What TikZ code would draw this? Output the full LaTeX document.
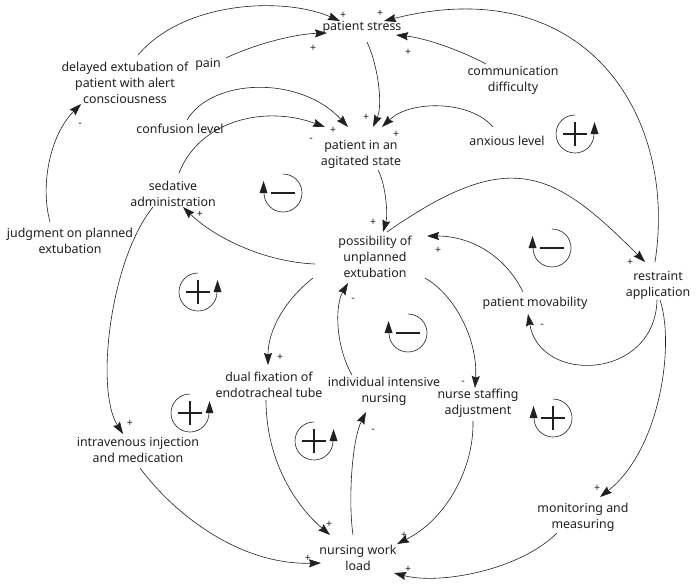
\documentclass[tikz,border=0pt]{standalone}
\usepackage{fontspec}
\setmainfont{Noto Sans}
\usetikzlibrary{arrows.meta,calc}
\definecolor{ink}{HTML}{231F20}
\tikzset{
  lbl/.style={font=\fontsize{12.4}{16}\selectfont, align=center, inner sep=0pt, text=ink},
  sgn/.style={font=\fontsize{10.5}{10.5}\selectfont, inner sep=0pt, text=ink},
  link/.style={draw=ink, line width=0.6pt, -{Stealth[length=12pt,width=8pt,inset=1.5pt]}},
  loopline/.style={draw=ink, line width=0.6pt},
  loopmark/.style={draw=ink, line width=1.5pt},
  Rccw/.pic={
    \draw[loopline] (90:19pt) arc[start angle=90,end angle=360,radius=19pt];
    \fill[ink] (19.5pt,12pt) -- (15.5pt,0pt) -- (23.5pt,0pt) -- cycle;
    \draw[loopmark] (-12pt,0pt) -- (12pt,0pt) (0pt,-12pt) -- (0pt,12pt);
  },
  Rcw/.pic={
    \draw[loopline] (90:19pt) arc[start angle=90,end angle=-180,radius=19pt];
    \fill[ink] (-19.5pt,12pt) -- (-23.5pt,0pt) -- (-15.5pt,0pt) -- cycle;
    \draw[loopmark] (-12pt,0pt) -- (12pt,0pt) (0pt,-12pt) -- (0pt,12pt);
  },
  Bcw/.pic={
    \draw[loopline] (90:19pt) arc[start angle=90,end angle=-180,radius=19pt];
    \fill[ink] (-19.5pt,12pt) -- (-23.5pt,0pt) -- (-15.5pt,0pt) -- cycle;
    \draw[loopmark] (-12pt,0pt) -- (12pt,0pt);
  },
}
\begin{document}
\begin{tikzpicture}[x=1pt,y=-1pt]
\path[use as bounding box] (0,0) rectangle (699,587);

% variables
\node[lbl] (stress)    at (362,27)  {patient stress};
\node[lbl] (pain)      at (208,64)  {pain};
\node[lbl] (delayed)   at (125,83)  {delayed extubation of\\patient with alert\\consciousness};
\node[lbl] (comm)      at (513,80)  {communication\\difficulty};
\node[lbl] (confusion) at (180,129) {confusion level};
\node[lbl] (agitated)  at (361,154) {patient in an\\agitated state};
\node[lbl] (anxious)   at (507,141) {anxious level};
\node[lbl] (sedative)  at (173,194) {sedative\\administration};
\node[lbl] (judgment)  at (70,241)  {judgment on planned\\extubation};
\node[lbl] (possib)    at (375,257) {possibility of\\unplanned\\extubation};
\node[lbl] (movab)     at (535,303) {patient movability};
\node[lbl] (restraint) at (658,285) {restraint\\application};
\node[lbl] (dual)      at (269,385) {dual fixation of\\endotracheal tube};
\node[lbl] (indiv)     at (384,391) {individual intensive\\nursing};
\node[lbl] (staffing)  at (478,403) {nurse staffing\\adjustment};
\node[lbl] (intrav)    at (138,450) {intravenous injection\\and medication};
\node[lbl] (monitor)   at (583,517) {monitoring and\\measuring};
\node[lbl] (load)      at (358,558) {nursing work\\load};

% causal links
\draw[link] ($(delayed)+(13,-28)$) .. controls (185,0) and (285,-3) .. ($(stress)+(-22,-6)$);
\draw[link] ($(pain)+(18,-6)$) .. controls (255,44) and (295,34) .. ($(stress)+(-35,6)$);
\draw[link] ($(restraint)+(-3,-23)$) .. controls (678,115) and (585,-30) .. ($(stress)+(22,-6)$);
\draw[link] ($(comm)+(-27,-16)$) .. controls (460,50) and (425,38) .. ($(stress)+(34,8)$);
\draw[link] ($(stress)+(5,15)$) .. controls (378,65) and (383,105) .. ($(agitated)+(12,-27)$);
\draw[link] ($(anxious)+(-14,-14)$) .. controls (470,100) and (410,100) .. ($(agitated)+(21,-27)$);
\draw[link] ($(confusion)+(7,-9)$) .. controls (212,78) and (300,75) .. ($(agitated)+(-13,-27)$);
\draw[link] ($(sedative)+(6,-21)$) .. controls (200,120) and (265,105) .. ($(agitated)+(-36,-27)$);
\draw[link] ($(agitated)+(17,16)$) .. controls (386,185) and (388,215) .. ($(possib)+(8,-25)$);
\draw[link] ($(possib)+(-60,7)$) .. controls (265,262) and (215,238) .. ($(sedative)+(10,13)$);
\draw[link] ($(possib)+(12,-25)$) .. controls (510,146) and (553,170) .. ($(restraint)+(-13,-23)$);
\draw[link] ($(movab)+(-12,-11)$) .. controls (505,255) and (470,236) .. ($(possib)+(52,-21)$);
\draw[link] ($(restraint)+(-1,15)$) .. controls (655,380) and (540,385) .. ($(movab)+(-7,11)$);
\draw[link] ($(restraint)+(2,15)$) .. controls (675,345) and (660,450) .. ($(monitor)+(17,-20)$);
\draw[link] ($(monitor)+(-26,16)$) .. controls (520,570) and (440,585) .. ($(load)+(36,15)$);
\draw[link] ($(possib)+(50,21)$) .. controls (455,295) and (478,340) .. ($(staffing)+(-3,-15)$);
\draw[link] ($(staffing)+(-5,18)$) .. controls (474,470) and (445,520) .. ($(load)+(39,-14)$);
\draw[link] ($(load)+(-5,-23)$) .. controls (348,500) and (352,440) .. ($(indiv)+(-18,21)$);
\draw[link] ($(indiv)+(-32,-16)$) .. controls (335,345) and (335,305) .. ($(possib)+(-27,26)$);
\draw[link] ($(possib)+(-62,21)$) .. controls (285,300) and (268,330) .. ($(dual)+(-1,-20)$);
\draw[link] ($(dual)+(-3,15)$) .. controls (266,460) and (295,505) .. ($(load)+(-28,-23)$);
\draw[link] ($(intrav)+(2,18)$) .. controls (175,515) and (240,565) .. ($(load)+(-37,5)$);
\draw[link] ($(sedative)+(-20,13)$) .. controls (110,260) and (95,390) .. ($(intrav)+(-15,-16)$);
\draw[link] ($(judgment)+(-20,-19)$) .. controls (40,185) and (50,135) .. ($(delayed)+(-44,21)$);

% polarity signs
\node[sgn] (g1)  at (343,15)  {+};
\node[sgn] (g2)  at (319,34)  {+};
\node[sgn] (g3)  at (313,48)  {+};
\node[sgn] (g4)  at (380,13)  {+};
\node[sgn] (g5)  at (408,52)  {+};
\node[sgn] (g6)  at (366,117) {+};
\node[sgn] (g7)  at (396,134) {+};
\node[sgn] (g8)  at (333,130) {+};
\node[sgn] (g9)  at (311,140) {-};
\node[sgn] (g10) at (373,222) {+};
\node[sgn] (g11) at (200,214) {+};
\node[sgn] (g12) at (630,262) {+};
\node[sgn] (g13) at (438,250) {+};
\node[sgn] (g14) at (542,326) {-};
\node[sgn] (g15) at (597,488) {+};
\node[sgn] (g16) at (408,569) {+};
\node[sgn] (g17) at (463,383) {-};
\node[sgn] (g18) at (404,535) {+};
\node[sgn] (g19) at (373,431) {-};
\node[sgn] (g20) at (353,300) {-};
\node[sgn] (g21) at (280,357) {+};
\node[sgn] (g22) at (329,524) {+};
\node[sgn] (g23) at (308,558) {+};
\node[sgn] (g24) at (130,423) {+};
\node[sgn] (g25) at (80,125)  {-};

% loop markers
\pic at (575,134) {Rccw};
\pic at (198,292) {Rccw};
\pic at (190,413) {Rccw};
\pic at (314,441) {Rccw};
\pic at (553,418) {Rcw};
\pic at (283,193) {Bcw};
\pic at (552,248) {Bcw};
\pic at (408,333) {Bcw};
\end{tikzpicture}
\end{document}
